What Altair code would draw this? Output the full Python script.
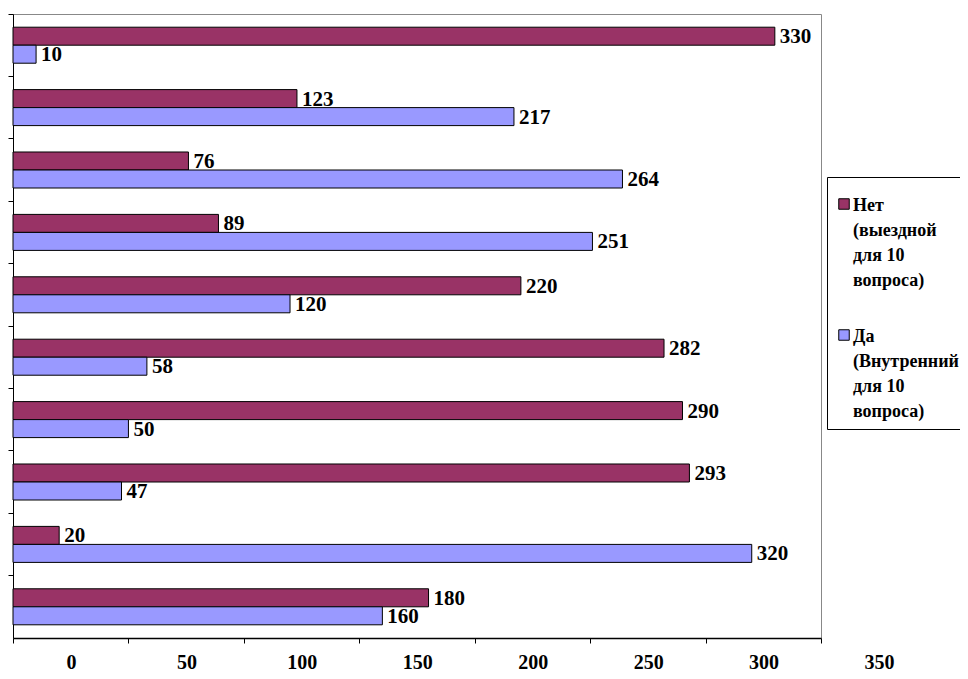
import altair as alt
import pandas as pd

categories = ["10 вопрос", "9 вопрос", "8 вопрос", "7 вопрос", "6 вопрос",
              "5 вопрос", "4 вопрос", "3 вопрос", "2 вопрос", "1 вопрос"]
series_names = ["Нет (выездной для 10 вопроса)", "Да (Внутренний для 10 вопроса)"]
net_values = [330, 123, 76, 89, 220, 282, 290, 293, 20, 180]
da_values = [10, 217, 264, 251, 120, 58, 50, 47, 320, 160]
x_ticks = [0, 50, 100, 150, 200, 250, 300, 350]
colors = ["#993366", "#9999FF"]

rows = []
for c, n, d in zip(categories, net_values, da_values):
    rows.append({"cat": c, "series": series_names[0], "value": n})
    rows.append({"cat": c, "series": series_names[1], "value": d})
df = pd.DataFrame(rows)

FONT = "Times New Roman"

y_enc = alt.Y("cat:N", sort=categories,
              scale=alt.Scale(paddingInner=0, paddingOuter=0),
              axis=alt.Axis(title=None, labels=False, ticks=True, tickSize=5,
                            tickColor="black", domainColor="black",
                            bandPosition=0, grid=False))
yoff = alt.YOffset("series:N", sort=series_names,
                   scale=alt.Scale(paddingInner=0, paddingOuter=0.733, align=0.5))
x_enc = alt.X("value:Q",
              scale=alt.Scale(domain=[0, 350], nice=False),
              axis=alt.Axis(title=None, values=x_ticks, grid=False, tickSize=5,
                            tickColor="black", domainColor="black", domainWidth=1.5,
                            labelFont=FONT, labelFontWeight="bold", labelFontSize=20,
                            labelColor="black", labelOffset=58, labelPadding=16,
                            labelFlush=False, labelOverlap=False))

label_expr = ("split(replace(replace(replace(datum.label, ' (', '|('), "
              "' для', '|для'), ' вопроса', '|вопроса'), '|')")

bars = alt.Chart(df).mark_bar(stroke="black", strokeWidth=1).encode(
    y=y_enc, yOffset=yoff, x=x_enc,
    color=alt.Color("series:N", sort=series_names,
                    scale=alt.Scale(domain=series_names, range=colors),
                    legend=alt.Legend(
                        title=" ", titleFontSize=1, titlePadding=9,
                        orient="none", legendX=814, legendY=163,
                        symbolType="square", symbolSize=110, symbolStrokeColor="black",
                        symbolStrokeWidth=1, labelFont=FONT, labelFontWeight="bold",
                        labelFontSize=18, labelColor="black", labelLimit=400,
                        labelExpr=label_expr,
                        strokeColor="black", padding=8, rowPadding=36,
                        labelBaseline="top", labelOffset=0,
                        fillColor="white")),
)

labels = alt.Chart(df).mark_text(align="left", baseline="middle", dx=5, dy=1,
                                 font=FONT, fontWeight="bold", fontSize=21,
                                 color="black").encode(
    y=alt.Y("cat:N", sort=categories), yOffset=alt.YOffset("series:N", sort=series_names),
    x="value:Q", text="value:Q")

chart = alt.layer(bars, labels).properties(
    width=808, height=624,
    autosize=alt.AutoSizeParams(type="none"),
    padding={"left": 5, "top": 6, "right": 139, "bottom": 33},
).configure(
    style={"guide-label": {"lineHeight": 25, "dy": -7}}
).configure_view(stroke="#888888", strokeWidth=1)

chart.save("out.html", embed_options={"renderer": "svg", "actions": False})
